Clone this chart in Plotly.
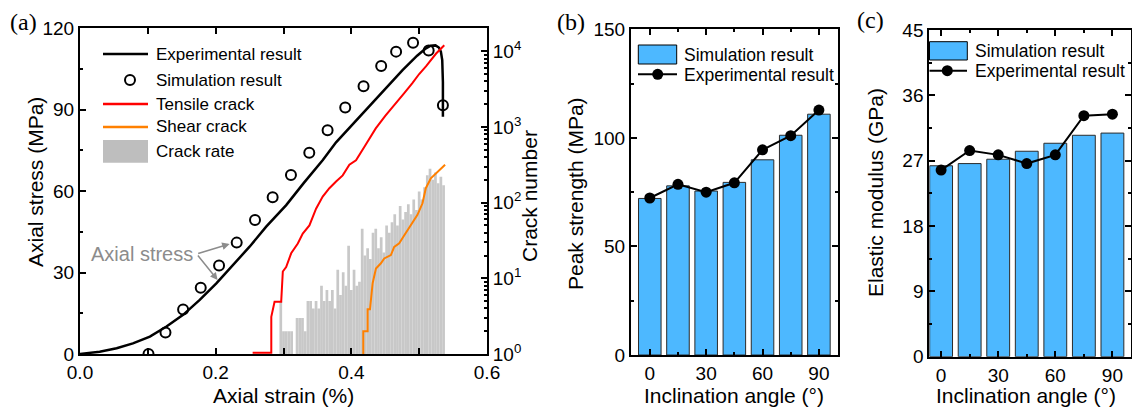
import plotly.graph_objects as go

W, H = 1132, 411

# ---------------- panel (a): stress-strain curve and crack growth ----------------
exp_strain = [0.000, 0.029, 0.054, 0.078, 0.103, 0.1275, 0.152, 0.1765, 0.201, 0.2255,
              0.250, 0.2745, 0.304, 0.330, 0.358, 0.3775, 0.4265, 0.4755, 0.497,
              0.510, 0.517, 0.524, 0.529, 0.532, 0.534, 0.535, 0.535]
exp_stress = [0.0, 0.86, 2.1, 3.9, 6.4, 10.1, 14.4, 19.9, 26.0, 32.8,
              39.5, 46.9, 54.8, 63.0, 71.4, 77.9, 91.2, 104.5, 109.8,
              112.5, 113.5, 113.6, 112.8, 111.3, 108.2, 100.0, 87.3]

sim_strain = [0.101, 0.126, 0.152, 0.178, 0.205, 0.231, 0.258, 0.284, 0.311,
              0.338, 0.365, 0.391, 0.418, 0.444, 0.466, 0.491, 0.514, 0.535]
sim_stress = [0.0, 7.9, 16.4, 24.4, 32.6, 41.0, 49.3, 57.7, 65.9,
              74.1, 82.4, 90.7, 98.6, 106.0, 111.3, 114.6, 111.7, 91.6]

tensile_strain = [0.2545, 0.282, 0.282, 0.2843, 0.2868, 0.2966, 0.2990, 0.3039, 0.3113,
                  0.3211, 0.3284, 0.3382, 0.3480, 0.3578, 0.3676, 0.3775, 0.3873,
                  0.3971, 0.4069, 0.420, 0.436, 0.450, 0.466, 0.478, 0.490, 0.500,
                  0.510, 0.525, 0.537]
tensile_count = [1.04, 1.04, 3.1, 3.8, 4.9, 4.9, 12.3, 14.1, 21.4,
                 28.8, 38.9, 50, 83, 120, 155, 190, 229,
                 316, 363, 560, 955, 1400, 2040, 2800, 3800, 5000,
                 6310, 9330, 12000]

shear_strain = [0.4176, 0.4176, 0.424, 0.424, 0.4275, 0.4289, 0.4314, 0.4363, 0.4436,
                0.4485, 0.4583, 0.4632, 0.4706, 0.4755, 0.4853, 0.4975, 0.5049,
                0.5098, 0.5172, 0.5270, 0.5382]
shear_count = [1, 2, 2, 3.9, 3.9, 5.7, 8.6, 13.5, 15.8,
               18.3, 20.3, 26, 29, 34, 47, 69, 98,
               155, 209, 256, 316]

rate_strain = [0.296, 0.300, 0.304, 0.308, 0.312, 0.316, 0.320, 0.324, 0.328, 0.332,
               0.336, 0.340, 0.344, 0.348, 0.352, 0.356, 0.360, 0.364, 0.368, 0.372,
               0.376, 0.380, 0.384, 0.388, 0.392, 0.396, 0.400, 0.404, 0.408, 0.412,
               0.416, 0.420, 0.424, 0.428, 0.432, 0.436, 0.440, 0.444, 0.448, 0.452,
               0.456, 0.460, 0.464, 0.468, 0.472, 0.476, 0.480, 0.484, 0.488, 0.492,
               0.496, 0.500, 0.504, 0.508, 0.512, 0.516, 0.520, 0.524, 0.528, 0.532,
               0.536]
rate_count = [5, 2, 2, 2, 2, 1, 3, 3, 3, 2,
              5, 5, 4, 5, 4, 8, 5, 7, 5, 7,
              4, 13, 6, 12, 8, 27, 7, 13, 8, 9,
              45, 20, 25, 18, 40, 45, 25, 35, 22, 50,
              40, 55, 70, 50, 90, 60, 75, 95, 70, 110,
              80, 140, 110, 160, 230, 280, 200, 250, 180, 220,
              170]

# ---------------- panels (b) and (c): effect of inclination angle ----------------
angles = [0, 15, 30, 45, 60, 75, 90]
peak_sim = [72.1, 77.9, 75.5, 79.5, 89.9, 101.2, 110.9]
peak_exp = [72.3, 78.6, 75.0, 79.3, 94.5, 101.0, 112.8]
modulus_sim = [26.3, 26.6, 27.2, 28.3, 29.4, 30.5, 30.8]
modulus_exp = [25.7, 28.4, 27.8, 26.6, 27.8, 33.2, 33.4]

FONT = "Liberation Sans"
SERIF = "Liberation Serif"
BLUE = "#4DB8FF"
GRAY = "#C8C8C8"
RED = "#FF0000"
ORANGE = "#FF8000"


def fx(px):
    return px / W


def fy(py):
    return 1 - py / H


fig = go.Figure()

# crack rate histogram first so the crack curves sit above it
fig.add_trace(go.Bar(x=rate_strain, y=rate_count, width=0.004,
                     marker=dict(color=GRAY, line=dict(width=0)),
                     xaxis="x", yaxis="y2", showlegend=False))
fig.add_trace(go.Scatter(x=exp_strain, y=exp_stress, mode="lines",
                         line=dict(color="black", width=2.5),
                         xaxis="x", yaxis="y", showlegend=False))
fig.add_trace(go.Scatter(x=sim_strain, y=sim_stress, mode="markers",
                         marker=dict(symbol="circle-open", size=10, color="black",
                                     line=dict(width=2, color="black")),
                         xaxis="x", yaxis="y", showlegend=False))
fig.add_trace(go.Scatter(x=tensile_strain, y=tensile_count, mode="lines",
                         line=dict(color=RED, width=2),
                         xaxis="x", yaxis="y2", showlegend=False))
fig.add_trace(go.Scatter(x=shear_strain, y=shear_count, mode="lines",
                         line=dict(color=ORANGE, width=2),
                         xaxis="x", yaxis="y2", showlegend=False))

# panel (b)
fig.add_trace(go.Bar(x=angles, y=peak_sim, width=12,
                     marker=dict(color=BLUE, line=dict(color="#2b2b2b", width=1)),
                     xaxis="x2", yaxis="y3", showlegend=False))
fig.add_trace(go.Scatter(x=angles, y=peak_exp, mode="lines+markers",
                         line=dict(color="black", width=2),
                         marker=dict(size=11, color="black"),
                         xaxis="x2", yaxis="y3", showlegend=False))
# panel (c)
fig.add_trace(go.Bar(x=angles, y=modulus_sim, width=12,
                     marker=dict(color=BLUE, line=dict(color="#2b2b2b", width=1)),
                     xaxis="x3", yaxis="y4", showlegend=False))
fig.add_trace(go.Scatter(x=angles, y=modulus_exp, mode="lines+markers",
                         line=dict(color="black", width=2),
                         marker=dict(size=11, color="black"),
                         xaxis="x3", yaxis="y4", showlegend=False))

tickfont = dict(family=FONT, size=19, color="black")
common = dict(showline=True, linecolor="black", linewidth=2, ticks="inside",
              ticklen=6, tickwidth=1.5, tickcolor="black", showgrid=False,
              zeroline=False, tickfont=tickfont)
minor_style = dict(ticks="inside", ticklen=3, tickwidth=1.5, tickcolor="black", showgrid=False)

log_minor = [m * 10 ** k for k in range(5) for m in range(2, 10)]

fig.update_layout(
    width=W, height=H, margin=dict(l=0, r=0, t=0, b=0),
    template="none", paper_bgcolor="white", plot_bgcolor="white",
    font=dict(family=FONT, size=19, color="black"),
    showlegend=False,
    xaxis=dict(domain=[fx(80), fx(487)], anchor="y", range=[0, 0.6], dtick=0.2,
               tick0=0, tickformat=".1f", mirror="allticks",
               minor=dict(dtick=0.1, tick0=0, **minor_style), **common),
    yaxis=dict(domain=[fy(354), fy(28)], anchor="x", range=[0, 120], dtick=30, tick0=0,
               minor=dict(dtick=15, tick0=0, **minor_style), **common),
    yaxis2=dict(overlaying="y", anchor="x", side="right", type="log",
                range=[0, 4.307], tickmode="array",
                tickvals=[1, 10, 100, 1000, 10000],
                ticktext=["10<sup>0</sup>", "10<sup>1</sup>", "10<sup>2</sup>",
                          "10<sup>3</sup>", "10<sup>4</sup>"],
                minor=dict(tickmode="array", tickvals=log_minor, **minor_style),
                **common),
    xaxis2=dict(domain=[fx(631), fx(837.7)], anchor="y3", range=[-10, 100],
                dtick=30, tick0=0, mirror="allticks",
                minor=dict(dtick=15, tick0=0, **minor_style), **common),
    yaxis3=dict(domain=[fy(355), fy(29.3)], anchor="x2", range=[0, 150],
                dtick=50, tick0=0, mirror="allticks",
                minor=dict(dtick=25, tick0=0, **minor_style), **common),
    xaxis3=dict(domain=[fx(929.3), fx(1130.5)], anchor="y4", range=[-6.2, 99.5],
                dtick=30, tick0=0, mirror="allticks",
                minor=dict(dtick=15, tick0=0, **minor_style), **common),
    yaxis4=dict(domain=[fy(356.7), fy(30)], anchor="x3", range=[0, 45],
                dtick=9, tick0=0, mirror="allticks",
                minor=dict(dtick=4.5, tick0=0, **minor_style), **common),
)

ann = []


def label(text, x, y, size=21, angle=0, family=FONT, color="black", xanchor="center"):
    ann.append(dict(text=text, x=fx(x), y=fy(y), xref="paper", yref="paper",
                    showarrow=False, textangle=angle, xanchor=xanchor, yanchor="middle",
                    font=dict(family=family, size=size, color=color)))


# panel tags
label("(a)", 23, 22, size=24, family=SERIF)
label("(b)", 571, 22, size=24, family=SERIF)
label("(c)", 870, 20, size=24, family=SERIF)

# axis titles
label("Axial strain (%)", 283, 395)
label("Axial stress (MPa)", 35, 182, angle=-90)
label("Crack number", 529, 196, angle=-90)
label("Peak strength (MPa)", 575, 193, angle=-90)
label("Inclination angle (°)", 734, 395)
label("Elastic modulus (GPa)", 875, 193, angle=-90)
label("Inclination angle (°)", 1026, 395)

# legend entries, panel (a)
for txt, yy in [("Experimental result", 55), ("Simulation result", 80),
                ("Tensile crack", 104), ("Shear crack", 127), ("Crack rate", 151)]:
    label(txt, 154, yy, size=17, xanchor="left")
# legend entries, panels (b) and (c)
label("Simulation result", 682, 54.5, size=17.5, xanchor="left")
label("Experimental result", 682, 75, size=17.5, xanchor="left")
label("Simulation result", 973, 51, size=17.5, xanchor="left")
label("Experimental result", 973, 71, size=17.5, xanchor="left")

# "Axial stress" callout with two arrows
ann.append(dict(text="Axial stress", x=0.170, y=36.8, xref="x", yref="y",
                showarrow=False, xanchor="right", yanchor="middle",
                font=dict(family=FONT, size=20, color="#8C8C8C")))
for hx, hy in [(0.2206, 40.5), (0.2029, 27.2)]:
    ann.append(dict(text="", x=hx, y=hy, xref="x", yref="y", axref="x", ayref="y",
                    ax=0.172, ay=36.8, showarrow=True, arrowhead=2, arrowsize=1,
                    arrowwidth=1.5, arrowcolor="#8C8C8C", standoff=0))

shapes = []


def hline(x0, x1, y, color, width):
    shapes.append(dict(type="line", xref="paper", yref="paper", x0=fx(x0), x1=fx(x1),
                       y0=fy(y), y1=fy(y), line=dict(color=color, width=width)))


def rect(x0, x1, y0, y1, fill, lc=None, lw=0):
    shapes.append(dict(type="rect", xref="paper", yref="paper", x0=fx(x0), x1=fx(x1),
                       y0=fy(y1), y1=fy(y0), fillcolor=fill,
                       line=dict(color=lc or fill, width=lw)))


def dot(cx, cy, r, fill, lw):
    shapes.append(dict(type="circle", xref="paper", yref="paper",
                       x0=fx(cx - r), x1=fx(cx + r), y0=fy(cy + r), y1=fy(cy - r),
                       fillcolor=fill, line=dict(color="black", width=lw)))


# legend swatches, panel (a)
hline(103, 148, 54, "black", 2.5)
dot(130, 80, 5, "rgba(0,0,0,0)", 2)
hline(103, 148, 104, RED, 2.5)
hline(103, 148, 127, ORANGE, 2.5)
rect(103, 148, 140, 162.7, "#BEBEBE")
# legend swatches, panel (b)
rect(638.3, 676.7, 45, 64, BLUE, "black", 1)
hline(638, 677, 74.3, "black", 2)
dot(657.7, 74.3, 5.5, "black", 0)
# legend swatches, panel (c)
rect(929.5, 967.3, 41.7, 60, BLUE, "black", 1)
hline(929.5, 967, 70.7, "black", 2)
dot(947.3, 70.7, 5.5, "black", 0)

fig.update_layout(annotations=ann, shapes=shapes)

fig.write_html("out.html")
